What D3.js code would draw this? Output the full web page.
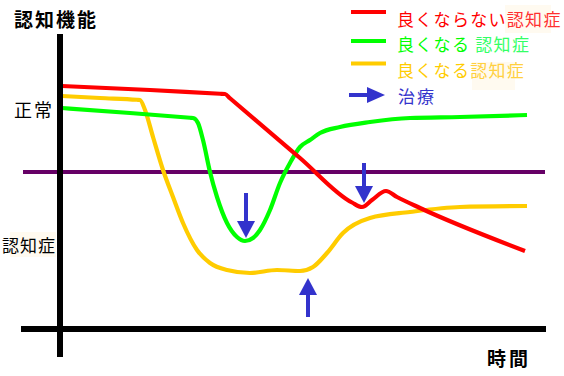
<!DOCTYPE html>
<html><head><meta charset="utf-8">
<script src="https://cdn.jsdelivr.net/npm/d3@7"></script>
<style>
body{margin:0;background:#fff}
svg{display:block}
text{font-family:"Noto Sans CJK JP","Noto Sans CJK SC",sans-serif}
</style>
</head><body>
<svg id="c" width="564" height="376"></svg>
<script>
// ---- data (time t, cognitive level v) ----
const seriesLabels = ["良くならない", "良くなる ", "良くなる"];
const seriesSuffix = "認知症";
const redValues = [[0.4,48.6],[18,47.8],[32,47.05],[33,47],[34,46.15],[48,34.2],[58.4,25.3],[60.4,24.4],[62.4,25.8],[65.2,27.6],[67.4,26.4],[72,24.2],[93,15.6]];
const greenValues = [[0.4,44.2],[14,43.2],[26,42.25],[26.6,42.2],[27.6,41.2],[28.6,37.8],[30,31.4],[31.4,26.4],[33.4,21.2],[35.4,18.4],[37,17.6],[38.6,18.2],[40,19.8],[42,23.8],[44,29.2],[46,33.2],[48,36.4],[50,37.8],[52,39.2],[56,40.4],[62,41.4],[70,42.2],[80,42.4],[93.4,42.8]];
const orangeValues = [[0.4,46.6],[8,46.2],[15.4,45.85],[16,45.8],[17,43.8],[18.6,38.4],[20.6,31.8],[22.6,26.4],[24.6,21.2],[27.4,15.8],[30,13.2],[33.4,11.8],[38,11.2],[43.4,11.8],[48,11.6],[50.6,12.4],[53.4,15.2],[56.6,19.2],[62,22.2],[70,23.4],[80,24.4],[93.4,24.6]];
const thresholdLevel = 31.4;
const thresholdExtent = [-7.4, 97];
const treatmentArrows = [{t:37.2, from:27.2, to:18.2}, {t:49.6, from:2.4, to:10.2}, {t:60.8, from:33.2, to:25.2}];
const yLabels = [{label:"正常", v:42.4}, {label:"認知症", v:15.4}];
const yAxisTitle = "認知機能";
const xAxisTitle = "時間";
const treatmentLabel = "治療";

// ---- scales ----
const x = d3.scaleLinear().domain([0, 97]).range([60, 545]);
const y = d3.scaleLinear().domain([0, 59]).range([329, 34]);

const svg = d3.select("#c");
svg.append("rect").attr("width",564).attr("height",376).attr("fill","#fff");

// faint highlight backgrounds behind 認知症 texts
const bgCol = "#fffaf0";
svg.append("rect").attr("x",10).attr("y",232).attr("width",46).attr("height",25).attr("fill",bgCol);
svg.append("rect").attr("x",505).attr("y",5).attr("width",46).attr("height",28).attr("fill",bgCol);
svg.append("rect").attr("x",472).attr("y",62).attr("width",43).attr("height",28).attr("fill",bgCol);

// threshold line
svg.append("line")
  .attr("x1", x(thresholdExtent[0])).attr("x2", x(thresholdExtent[1]))
  .attr("y1", y(thresholdLevel)).attr("y2", y(thresholdLevel))
  .attr("stroke","#660066").attr("stroke-width",4);

const line = d3.line().x(d=>x(d[0])).y(d=>y(d[1])).curve(d3.curveMonotoneX);
const series = [
  {vals: orangeValues, color:"#ffcc00"},
  {vals: greenValues, color:"#00ff00"},
  {vals: redValues, color:"#ff0000"}
];
series.forEach(s=>{
  svg.append("path").attr("d", line(s.vals)).attr("fill","none")
    .attr("stroke", s.color).attr("stroke-width",4.2).attr("stroke-linejoin","round");
});

// axes
svg.append("line").attr("x1",x(0)).attr("x2",x(0)).attr("y1",y(59)).attr("y2",y(-5.6))
  .attr("stroke","#000").attr("stroke-width",6);
svg.append("line").attr("x1",x(-7.8)).attr("x2",x(97.2)).attr("y1",y(0)).attr("y2",y(0))
  .attr("stroke","#000").attr("stroke-width",6);

// arrows
const blue = "#3333cc";
function vArrow(px, y0, y1, hl, hw){
  const dir = y1 > y0 ? 1 : -1;
  const base = y1 - dir*hl;
  svg.append("line").attr("x1",px).attr("x2",px).attr("y1",y0).attr("y2",base+dir*1)
    .attr("stroke",blue).attr("stroke-width",4);
  svg.append("path").attr("d",`M${px-hw},${base}L${px+hw},${base}L${px},${y1}Z`).attr("fill",blue);
}
treatmentArrows.forEach(a=> vArrow(x(a.t), y(a.from), y(a.to), 17, 9));

// titles and labels
svg.append("text").attr("x",14).attr("y",27).attr("font-size",19).attr("font-weight","bold")
  .attr("letter-spacing",2).attr("fill","#000").text(yAxisTitle);
svg.append("text").attr("x",487).attr("y",366).attr("font-size",19).attr("font-weight","bold")
  .attr("letter-spacing",3).attr("fill","#000").text(xAxisTitle);
yLabels.forEach((d,i)=>{
  svg.append("text").attr("x", i===0?14:2).attr("y", y(d.v))
    .attr("font-size", i===0?18:17).attr("letter-spacing", i===0?2:1).attr("fill","#000").text(d.label);
});

// legend
const legendColors = [["#ff0000","#ff3030"],["#00ff00","#33ff66"],["#ffcc00","#ffd040"]];
const legendY = [12, 41, 63.5];
const legendBase = [26, 50.5, 77];
seriesLabels.forEach((lab,i)=>{
  svg.append("line").attr("x1",351).attr("x2",386).attr("y1",legendY[i]).attr("y2",legendY[i])
    .attr("stroke",legendColors[i][0]).attr("stroke-width",4);
  const t = svg.append("text").attr("x",397).attr("y",legendBase[i]).attr("font-size",17)
    .attr("letter-spacing",1.3);
  t.append("tspan").attr("fill",legendColors[i][0]).text(lab);
  t.append("tspan").attr("fill",legendColors[i][1]).text(seriesSuffix);
});
// legend arrow
svg.append("line").attr("x1",349).attr("x2",368).attr("y1",95).attr("y2",95).attr("stroke",blue).attr("stroke-width",4);
svg.append("path").attr("d","M367,87L367,103L385,95Z").attr("fill",blue);
svg.append("text").attr("x",398).attr("y",103).attr("font-size",17).attr("letter-spacing",2)
  .attr("fill",blue).text(treatmentLabel);
</script>
</body></html>
